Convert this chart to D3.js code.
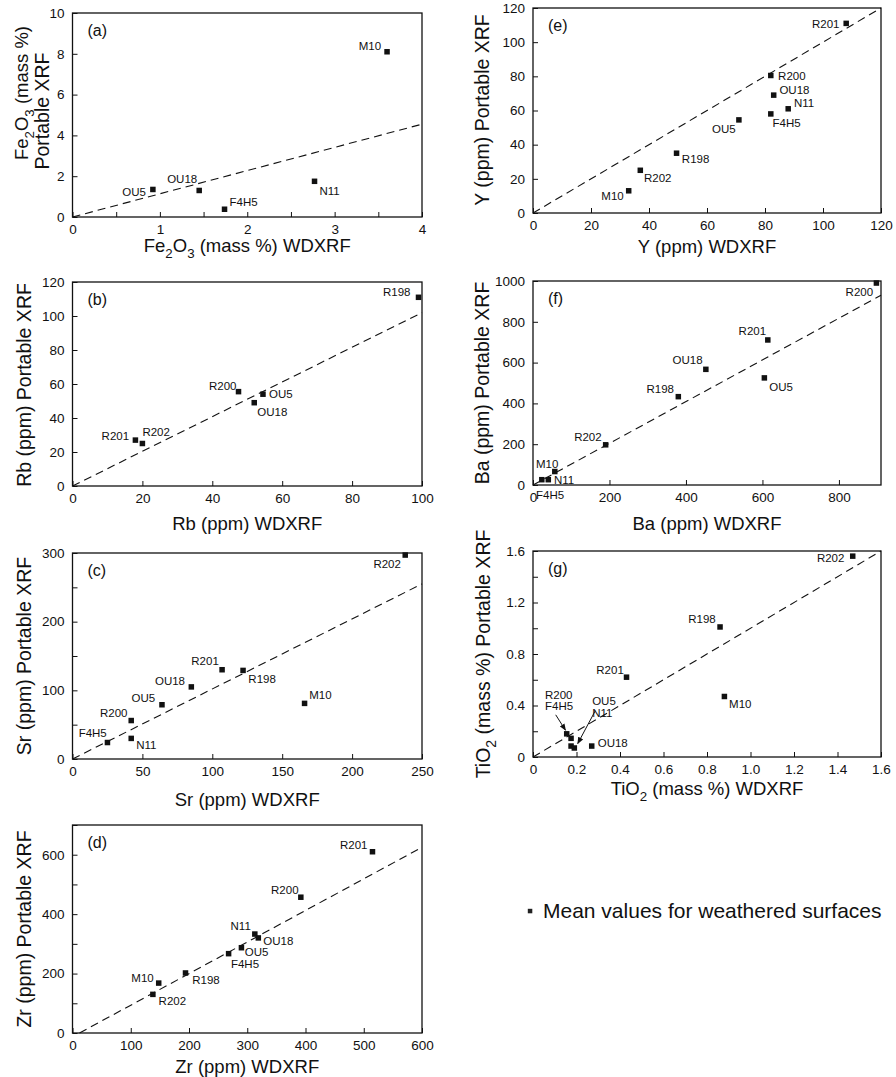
<!DOCTYPE html>
<html>
<head>
<meta charset="utf-8">
<script src="https://cdn.jsdelivr.net/npm/d3@7"></script>
<style>
  body { margin: 0; background: #fff; }
  svg text { font-family: "Liberation Sans", Arial, Helvetica, sans-serif; fill: #111; }
</style>
</head>
<body>
<svg id="chart" width="896" height="1077"></svg>
<script>
// ---- (a) Fe2O3, mass % ----
const feSamples = ["OU5", "OU18", "F4H5", "N11", "M10"];
const feWd = [0.92, 1.45, 1.74, 2.77, 3.60];
const fePx = [1.35, 1.30, 0.38, 1.75, 8.10];
const feFitX = [0, 4];
const feFitY = [0, 4.55];
const feXTicks = [0, 0.5, 1, 1.5, 2, 2.5, 3, 3.5, 4];
const feXLabels = ["0", "", "1", "", "2", "", "3", "", "4"];
const feYTicks = [0, 2, 4, 6, 8, 10];
const feYLabels = ["0", "2", "4", "6", "8", "10"];

// ---- (b) Rb, ppm ----
const rbSamples = ["R198", "R200", "OU5", "OU18", "R201", "R202"];
const rbWd = [99, 47.5, 54.5, 52, 18, 20];
const rbPx = [111, 55.5, 54, 49, 27, 25];
const rbFitX = [0, 100];
const rbFitY = [0, 102];
const rbXTicks = [0, 20, 40, 60, 80, 100];
const rbXLabels = ["0", "20", "40", "60", "80", "100"];
const rbYTicks = [0, 20, 40, 60, 80, 100, 120];
const rbYLabels = ["0", "20", "40", "60", "80", "100", "120"];

// ---- (c) Sr, ppm ----
const srSamples = ["R202", "R201", "R198", "OU18", "OU5", "M10", "R200", "N11", "F4H5"];
const srWd = [238, 107, 122, 85, 64, 166, 42, 42, 25];
const srPx = [297, 130, 129, 105, 79, 81, 56, 30, 24];
const srFitX = [0, 250];
const srFitY = [0, 255];
const srXTicks = [0, 50, 100, 150, 200, 250];
const srXLabels = ["0", "50", "100", "150", "200", "250"];
const srYTicks = [0, 50, 100, 150, 200, 250, 300];
const srYLabels = ["0", "", "100", "", "200", "", "300"];

// ---- (d) Zr, ppm ----
const zrSamples = ["R201", "R200", "N11", "OU18", "OU5", "F4H5", "R198", "M10", "R202"];
const zrWd = [515, 392, 313, 319, 290, 268, 194, 148, 138];
const zrPx = [610, 457, 333, 320, 287, 267, 202, 168, 130];
const zrFitX = [12, 600];
const zrFitY = [0, 625];
const zrXTicks = [0, 100, 200, 300, 400, 500, 600];
const zrXLabels = ["0", "100", "200", "300", "400", "500", "600"];
const zrYTicks = [0, 100, 200, 300, 400, 500, 600, 700];
const zrYLabels = ["0", "", "200", "", "400", "", "600", ""];

// ---- (e) Y, ppm ----
const ySamples = ["R201", "R200", "OU18", "N11", "F4H5", "OU5", "R198", "R202", "M10"];
const yWd = [108, 82, 83, 88, 82, 71, 49.5, 37, 33];
const yPx = [111, 80.5, 69, 61, 58, 54.5, 35, 25, 13];
const yFitX = [0, 120];
const yFitY = [0, 120];
const yXTicks = [0, 20, 40, 60, 80, 100, 120];
const yXLabels = ["0", "20", "40", "60", "80", "100", "120"];
const yYTicks = [0, 20, 40, 60, 80, 100, 120];
const yYLabels = ["0", "20", "40", "60", "80", "100", "120"];

// ---- (f) Ba, ppm ----
const baSamples = ["R200", "R201", "OU18", "OU5", "R198", "R202", "M10", "N11", "F4H5"];
const baWd = [898, 614, 452, 605, 380, 190, 57, 40, 23];
const baPx = [990, 711, 567, 525, 433, 197, 66, 26, 26];
const baFitX = [0, 910];
const baFitY = [0, 930];
const baXTicks = [0, 200, 400, 600, 800];
const baXLabels = ["0", "200", "400", "600", "800"];
const baYTicks = [0, 200, 400, 600, 800, 1000];
const baYLabels = ["0", "200", "400", "600", "800", "1000"];

// ---- (g) TiO2, mass % ----
const tiSamples = ["R202", "R198", "R201", "M10", "OU18", "R200", "F4H5", "OU5", "N11"];
const tiWd = [1.47, 0.86, 0.43, 0.88, 0.27, 0.155, 0.175, 0.175, 0.19];
const tiPx = [1.56, 1.01, 0.62, 0.47, 0.085, 0.18, 0.145, 0.085, 0.07];
const tiFitX = [0, 1.6];
const tiFitY = [0, 1.6];
const tiXTicks = [0, 0.2, 0.4, 0.6, 0.8, 1.0, 1.2, 1.4, 1.6];
const tiXLabels = ["0", "0.2", "0.4", "0.6", "0.8", "1.0", "1.2", "1.4", "1.6"];
const tiYTicks = [0, 0.2, 0.4, 0.6, 0.8, 1.0, 1.2, 1.4, 1.6];
const tiYLabels = ["0", "", "0.4", "", "0.8", "", "1.2", "", "1.6"];

const legendText = "Mean values for weathered surfaces";

// Panel contents (data + titles); "_n" marks a subscript digit
const panels = [
  { key: "a", letter: "(a)", names: feSamples, wd: feWd, px: fePx, fitX: feFitX, fitY: feFitY,
    xDomain: [0, 4], yDomain: [0, 10], xTicks: feXTicks, xLabels: feXLabels, yTicks: feYTicks, yLabels: feYLabels,
    xTitle: "Fe_2O_3 (mass %) WDXRF", yTitle: ["Fe_2O_3 (mass %)", "Portable XRF"] },
  { key: "b", letter: "(b)", names: rbSamples, wd: rbWd, px: rbPx, fitX: rbFitX, fitY: rbFitY,
    xDomain: [0, 100], yDomain: [0, 120], xTicks: rbXTicks, xLabels: rbXLabels, yTicks: rbYTicks, yLabels: rbYLabels,
    xTitle: "Rb (ppm) WDXRF", yTitle: ["Rb (ppm) Portable XRF"] },
  { key: "c", letter: "(c)", names: srSamples, wd: srWd, px: srPx, fitX: srFitX, fitY: srFitY,
    xDomain: [0, 250], yDomain: [0, 300], xTicks: srXTicks, xLabels: srXLabels, yTicks: srYTicks, yLabels: srYLabels,
    xTitle: "Sr (ppm) WDXRF", yTitle: ["Sr (ppm) Portable XRF"] },
  { key: "d", letter: "(d)", names: zrSamples, wd: zrWd, px: zrPx, fitX: zrFitX, fitY: zrFitY,
    xDomain: [0, 600], yDomain: [0, 700], xTicks: zrXTicks, xLabels: zrXLabels, yTicks: zrYTicks, yLabels: zrYLabels,
    xTitle: "Zr (ppm) WDXRF", yTitle: ["Zr (ppm) Portable XRF"] },
  { key: "e", letter: "(e)", names: ySamples, wd: yWd, px: yPx, fitX: yFitX, fitY: yFitY,
    xDomain: [0, 120], yDomain: [0, 120], xTicks: yXTicks, xLabels: yXLabels, yTicks: yYTicks, yLabels: yYLabels,
    xTitle: "Y (ppm) WDXRF", yTitle: ["Y (ppm) Portable XRF"] },
  { key: "f", letter: "(f)", names: baSamples, wd: baWd, px: baPx, fitX: baFitX, fitY: baFitY,
    xDomain: [0, 910], yDomain: [0, 1000], xTicks: baXTicks, xLabels: baXLabels, yTicks: baYTicks, yLabels: baYLabels,
    xTitle: "Ba (ppm) WDXRF", yTitle: ["Ba (ppm) Portable XRF"] },
  { key: "g", letter: "(g)", names: tiSamples, wd: tiWd, px: tiPx, fitX: tiFitX, fitY: tiFitY,
    xDomain: [0, 1.6], yDomain: [0, 1.6], xTicks: tiXTicks, xLabels: tiXLabels, yTicks: tiYTicks, yLabels: tiYLabels,
    xTitle: "TiO_2 (mass %) WDXRF", yTitle: ["TiO_2 (mass %) Portable XRF"] }
];

// Frame boxes and title placement (pixels)
const layout = {
  a: { x0: 72.5, x1: 422, y0: 217, y1: 13,  xTitleY: 252,  yTitleX: [28, 49], yTitleCY: [93, 111], yTitleFs: [18.5, 19.5] },
  b: { x0: 72.5, x1: 422, y0: 486, y1: 282, xTitleY: 530,  yTitleX: [31], yTitleCY: [385] },
  c: { x0: 72.5, x1: 422, y0: 759, y1: 553, xTitleY: 806,  yTitleX: [31], yTitleCY: [656] },
  d: { x0: 72.5, x1: 422, y0: 1033, y1: 825, xTitleY: 1073, yTitleX: [31], yTitleCY: [929] },
  e: { x0: 533, x1: 881, y0: 213, y1: 8,   xTitleY: 253,  yTitleX: [489], yTitleCY: [110] },
  f: { x0: 533, x1: 881, y0: 485, y1: 281, xTitleY: 530,  yTitleX: [489], yTitleCY: [383] },
  g: { x0: 533, x1: 881, y0: 757, y1: 551, xTitleY: 795,  yTitleX: [490], yTitleCY: [654] }
};

// Sample label placement: [anchor, dx, dy] relative to the marker centre
const labelPos = {
  a: { OU5: ["end", -7, 6.7], OU18: ["end", -2, -7], F4H5: ["start", 5, -3.3], N11: ["start", 5, 14], M10: ["end", -6, -1.6] },
  b: { R198: ["end", -8, -1], R200: ["end", -2, -2], OU5: ["start", 6, 3.7], OU18: ["start", 3, 13], R201: ["end", -6.3, 0], R202: ["start", 0, -7.3] },
  c: { R202: ["end", -4.3, 13.3], R201: ["end", -3.3, -5], R198: ["start", 5.3, 12.7], OU18: ["end", -6.3, -2], OU5: ["end", -6.7, -3],
       M10: ["start", 4.7, -4.3], R200: ["end", -3.7, -3.3], N11: ["start", 5, 11], F4H5: ["end", -0.7, -5.3] },
  d: { R201: ["end", -5, -2.3], R200: ["end", -2.3, -3.7], N11: ["end", -4, -3.7], OU18: ["start", 5, 7], OU5: ["start", 3.3, 8.7],
       F4H5: ["start", 2.3, 14.7], R198: ["start", 6.7, 11.3], M10: ["end", -5, -1], R202: ["start", 5.7, 11] },
  e: { R201: ["end", -6.7, 5], R200: ["start", 7.3, 4.7], OU18: ["start", 5.7, -0.7], N11: ["start", 5.7, -1.7], F4H5: ["start", 1.7, 13],
       OU5: ["end", -3.3, 12.7], R198: ["start", 5.3, 9.3], R202: ["start", 3.7, 11.3], M10: ["end", -5, 9] },
  f: { R200: ["end", -3.3, 13], R201: ["end", -1.7, -4.7], OU18: ["end", -3.3, -5.7], OU5: ["start", 5, 13.3], R198: ["end", -4.3, -3.7],
       R202: ["end", -4, -4], M10: ["middle", -7.7, -3.3], N11: ["start", 5.7, 4], F4H5: ["start", -5.7, 19] },
  g: { R202: ["end", -8.3, 5.7], R198: ["end", -4.3, -4.3], R201: ["end", -2.7, -3.3], M10: ["start", 4.7, 11.7], OU18: ["start", 6, 0.7] }
};

// Arrow call-outs for the crowded low-TiO2 group in (g)
const tiCallouts = [
  { at: "R200", lines: ["R200", "F4H5"], textDx: -21.7, textDy: [-35.3, -23.7], arrow: [[-11, -19], [-1.2, -3.6]] },
  { at: "N11",  lines: ["OU5", "N11"],  textDx: 17.8,  textDy: [-43.3, -31],   arrow: [[21, -37.3], [3.4, -4.4]] }
];

const FONT = '"Liberation Sans", Arial, Helvetica, sans-serif';
const TICK_FS = 13.5;
const svg = d3.select("#chart");

svg.append("defs").append("marker")
  .attr("id", "arrowHead")
  .attr("viewBox", "0 0 10 10")
  .attr("refX", 9).attr("refY", 5)
  .attr("markerWidth", 7).attr("markerHeight", 7)
  .attr("markerUnits", "userSpaceOnUse")
  .attr("orient", "auto")
  .append("path").attr("d", "M0,1 L10,5 L0,9 Z").attr("fill", "#111");

// writes a string into a <text>, turning "_n" into a lowered, smaller digit
function richText(sel, str, fs) {
  const parts = str.split(/(_\d)/).filter(s => s.length);
  let shift = 0;
  parts.forEach(p => {
    const sub = p.startsWith("_");
    const t = sel.append("tspan").text(sub ? p.slice(1) : p);
    const target = sub ? fs * 0.32 : 0;
    if (target !== shift) { t.attr("dy", target - shift); shift = target; }
    if (sub) t.attr("font-size", fs * 0.72);
  });
}

panels.forEach(p => {
  const L = layout[p.key];
  const x = d3.scaleLinear().domain(p.xDomain).range([L.x0, L.x1]);
  const y = d3.scaleLinear().domain(p.yDomain).range([L.y0, L.y1]);
  const g = svg.append("g").attr("class", "panel panel-" + p.key);

  // axes with inward ticks
  g.append("g")
    .attr("transform", `translate(0,${L.y0})`)
    .call(d3.axisBottom(x).tickValues(p.xTicks).tickFormat((d, i) => p.xLabels[i])
      .tickSizeInner(-5).tickSizeOuter(0).tickPadding(7))
    .call(s => s.select(".domain").remove())
    .call(s => s.selectAll("text").attr("font-size", TICK_FS).attr("font-family", FONT).attr("fill", "#111"))
    .call(s => s.selectAll("line").attr("stroke", "#111"));

  g.append("g")
    .attr("transform", `translate(${L.x0},0)`)
    .call(d3.axisLeft(y).tickValues(p.yTicks).tickFormat((d, i) => p.yLabels[i])
      .tickSizeInner(-5).tickSizeOuter(0).tickPadding(8))
    .call(s => s.select(".domain").remove())
    .call(s => s.selectAll("text").attr("font-size", TICK_FS).attr("font-family", FONT).attr("fill", "#111"))
    .call(s => s.selectAll("line").attr("stroke", "#111"));

  // frame
  g.append("rect")
    .attr("x", L.x0).attr("y", L.y1)
    .attr("width", L.x1 - L.x0).attr("height", L.y0 - L.y1)
    .attr("fill", "none").attr("stroke", "#111").attr("stroke-width", 1.3);

  // dashed reference line
  g.append("line")
    .attr("x1", x(p.fitX[0])).attr("y1", y(p.fitY[0]))
    .attr("x2", x(p.fitX[1])).attr("y2", y(p.fitY[1]))
    .attr("stroke", "#111").attr("stroke-width", 1.1)
    .attr("stroke-dasharray", "8,5");

  // sample markers
  const pts = p.names.map((n, i) => ({ name: n, xv: p.wd[i], yv: p.px[i] }));
  const sz = 5.5;
  g.selectAll("rect.pt").data(pts).join("rect")
    .attr("class", "pt")
    .attr("x", d => x(d.xv) - sz / 2).attr("y", d => y(d.yv) - sz / 2)
    .attr("width", sz).attr("height", sz).attr("fill", "#111");

  // sample labels
  const pos = labelPos[p.key];
  g.selectAll("text.lbl").data(pts.filter(d => pos[d.name])).join("text")
    .attr("class", "lbl")
    .attr("x", d => x(d.xv) + pos[d.name][1])
    .attr("y", d => y(d.yv) + pos[d.name][2])
    .attr("text-anchor", d => pos[d.name][0])
    .attr("font-size", 11.5)
    .text(d => d.name);

  if (p.key === "g") {
    tiCallouts.forEach(c => {
      const d = pts.find(q => q.name === c.at);
      const cx = x(d.xv), cy = y(d.yv);
      c.lines.forEach((ln, k) => {
        g.append("text").attr("x", cx + c.textDx).attr("y", cy + c.textDy[k])
          .attr("font-size", 11.5).text(ln);
      });
      g.append("line")
        .attr("x1", cx + c.arrow[0][0]).attr("y1", cy + c.arrow[0][1])
        .attr("x2", cx + c.arrow[1][0]).attr("y2", cy + c.arrow[1][1])
        .attr("stroke", "#111").attr("stroke-width", 1)
        .attr("marker-end", "url(#arrowHead)");
    });
  }

  // panel letter
  g.append("text").attr("x", L.x0 + 15).attr("y", L.y1 + 23)
    .attr("font-size", 16).text(p.letter);

  // axis titles
  const xt = g.append("text")
    .attr("x", (L.x0 + L.x1) / 2).attr("y", L.xTitleY)
    .attr("text-anchor", "middle").attr("font-size", 18.5);
  richText(xt, p.xTitle, 18.5);

  p.yTitle.forEach((t, k) => {
    const fs = L.yTitleFs ? L.yTitleFs[k] : 19.5;
    const yt = g.append("text")
      .attr("transform", `translate(${L.yTitleX[k]},${L.yTitleCY[k]}) rotate(-90)`)
      .attr("text-anchor", "middle").attr("font-size", fs);
    richText(yt, t, fs);
  });
});

// legend
const leg = svg.append("g").attr("class", "legend");
leg.append("rect").attr("x", 527.8).attr("y", 908.8).attr("width", 4.5).attr("height", 4.5).attr("fill", "#222");
leg.append("text").attr("x", 543).attr("y", 918).attr("font-size", 21).attr("fill", "#222").text(legendText);
</script>
</body>
</html>
